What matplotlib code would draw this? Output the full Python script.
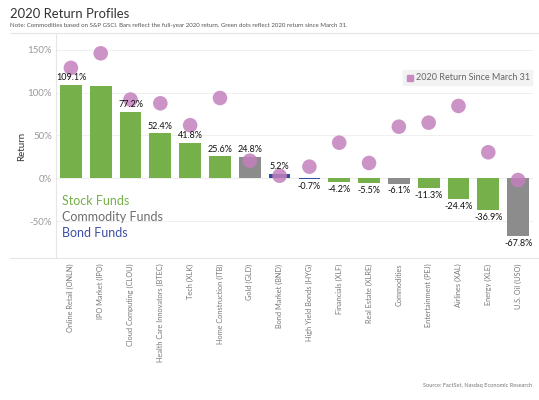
import numpy as np
import matplotlib
matplotlib.use('Agg')
import matplotlib.pyplot as plt
from matplotlib.lines import Line2D
from matplotlib.patches import Rectangle

plt.rcParams['font.family'] = ['Lato', 'DejaVu Sans']

funds = ['Online Retail (ONLN)', 'IPO Market (IPO)', 'Cloud Computing (CLOU)',
         'Health Care Innovators (BTEC)', 'Tech (XLK)', 'Home Construction (ITB)',
         'Gold (GLD)', 'Bond Market (BND)', 'High Yield Bonds (HYG)',
         'Financials (XLF)', 'Real Estate (XLRE)', 'Commodities',
         'Entertainment (PEJ)', 'Airlines (XAL)', 'Energy (XLE)', 'U.S. Oil (USO)']
kind = ['stock', 'stock', 'stock', 'stock', 'stock', 'stock',
        'commodity', 'bond', 'bond', 'stock', 'stock', 'commodity',
        'stock', 'stock', 'stock', 'commodity']
full_year = [109.1, 107.8, 77.2, 52.4, 41.8, 25.6, 24.8, 5.2, -0.7,
             -4.2, -5.5, -6.1, -11.3, -24.4, -36.9, -67.8]
show_label = [True, False, True, True, True, True, True, True, True,
              True, True, True, True, True, True, True]
since_march = [129, 146, 92, 87.6, 62, 93.8, 20.6, 3, 13.6,
               41.6, 17.9, 60.3, 65, 84.5, 30.4, -2]

colors = {'stock': '#76b04a', 'commodity': '#8c8c8c', 'bond': '#2b4f9e'}
dot_color = '#c480bd'

fig = plt.figure(figsize=(5.39, 4.00), dpi=100)
W, H = 539, 400
ax = fig.add_axes([56 / W, 1 - 258 / H, (533 - 56) / W, (258 - 35) / H])

x = np.arange(len(funds))
ax.bar(x, full_year, width=0.73, color=[colors[k] for k in kind], zorder=2)
ax.scatter(x, since_march, s=110, color=dot_color, alpha=0.85,
           edgecolors='none', zorder=3)

for xi, v, show in zip(x, full_year, show_label):
    if not show:
        continue
    if v >= 0:
        ax.annotate('%.1f%%' % v, (xi, v), xytext=(0, 2), textcoords='offset points',
                    ha='center', va='bottom', fontsize=6.5, color='#111111', zorder=4)
    else:
        ax.annotate('%.1f%%' % v, (xi, v), xytext=(0, -2), textcoords='offset points',
                    ha='center', va='top', fontsize=6.5, color='#111111', zorder=4)

ax.set_xlim(-0.5, len(funds) - 0.5)
ax.set_ylim(-93.1, 167.4)
ax.set_yticks([-50, 0, 50, 100, 150])
ax.set_yticklabels(['-50%', '0%', '50%', '100%', '150%'])
ax.set_xticks(x)
ax.set_xticklabels(funds, rotation=90, fontsize=5.3, color='#777777')
ax.tick_params(axis='y', labelsize=7, colors='#999999', length=0, pad=3)
ax.tick_params(axis='x', length=0, pad=4)
ax.grid(axis='y', color='#f0f0f0', lw=0.7, zorder=0)
ax.axhline(0, color='#e0e0e0', lw=0.8, zorder=1)
for s in ax.spines.values():
    s.set_visible(False)
ax.set_ylabel('Return', fontsize=7, color='#333333', labelpad=1)

# fund type legend
ax.text(0.012, 0.238, 'Stock Funds', transform=ax.transAxes, fontsize=9,
        color=colors['stock'])
ax.text(0.012, 0.164, 'Commodity Funds', transform=ax.transAxes, fontsize=9,
        color='#6d6d6d')
ax.text(0.012, 0.092, 'Bond Funds', transform=ax.transAxes, fontsize=9,
        color='#3c4fa6')

# dot legend
fig.add_artist(Rectangle((403 / W, 1 - 85 / H), (532 - 403) / W, 15 / H,
                         transform=fig.transFigure, color='#f2f2f2', zorder=5))
fig.add_artist(Rectangle((407 / W, 1 - 81 / H), 6 / W, 6 / H,
                         transform=fig.transFigure, color='#c98ac4', zorder=6))
fig.text(416 / W, 1 - 77.5 / H, '2020 Return Since March 31', fontsize=6.5,
         color='#666666', va='center', zorder=7)

# frame lines
fig.add_artist(Line2D([10 / W, 1], [1 - 33 / H] * 2, color='#e6e6e6', lw=0.8))
fig.add_artist(Line2D([10 / W, 1], [1 - 258 / H] * 2, color='#e6e6e6', lw=0.8))
fig.add_artist(Line2D([56 / W] * 2, [1 - 258 / H, 1 - 33 / H], color='#e6e6e6', lw=0.8))

fig.text(10 / W, 1 - 14 / H, '2020 Return Profiles', fontsize=9.4, color='#333333',
         va='center')
fig.text(10 / W, 1 - 26 / H, 'Note: Commodities based on S&P GSCI. Bars reflect the '
         'full-year 2020 return. Green dots reflect 2020 return since March 31.',
         fontsize=4.4, color='#555555', va='center')
fig.text(532 / W, 1 - 386 / H, 'Source: FactSet, Nasdaq Economic Research',
         fontsize=4.1, color='#777777', ha='right', va='center')

fig.savefig('out.png', dpi=100)
